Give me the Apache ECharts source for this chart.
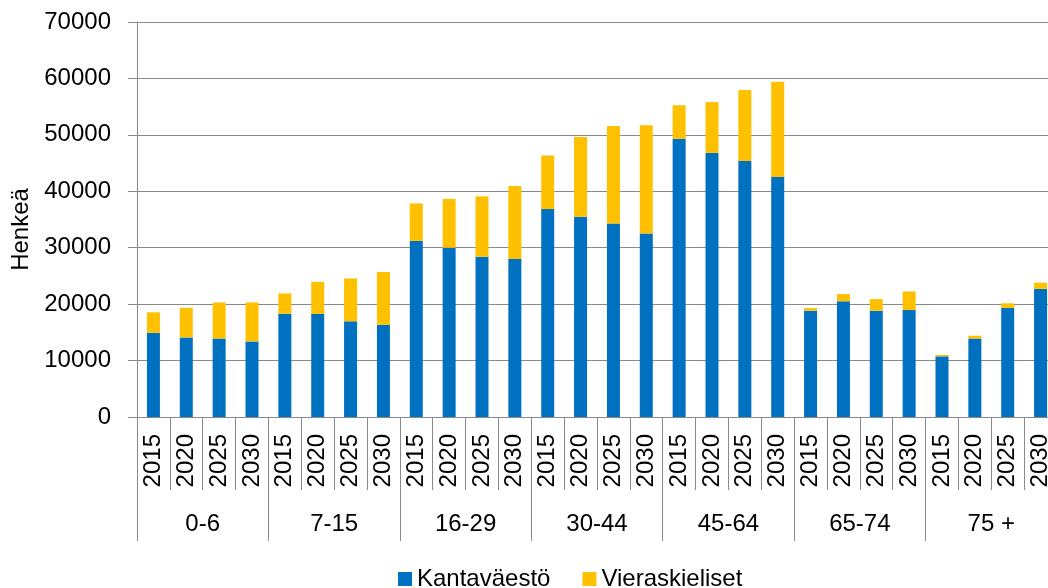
<!DOCTYPE html>
<html>
<head>
<meta charset="utf-8">
<script src="https://cdn.jsdelivr.net/npm/echarts@6/dist/echarts.min.js"></script>
<style>
  html, body { margin: 0; padding: 0; background: #fff; }
  #chart { width: 1048px; height: 588px; }
</style>
</head>
<body>
<div id="chart"></div>
<script>
const years = ['2015', '2020', '2025', '2030'];
const groups = ['0-6', '7-15', '16-29', '30-44', '45-64', '65-74', '75 +'];
const categories = groups.flatMap(() => years);

const kantavaesto = [
    14900, 14100, 13900, 13400,
    18300, 18250, 16950, 16350,
    31200, 30000, 28400, 28000,
    36850, 35500, 34300, 32500,
    49300, 46800, 45350, 42550,
    18850, 20500, 18850, 18950,
    10750, 13900, 19350, 22700
];
const vieraskieliset = [
    3650, 5250, 6400, 6900,
    3600, 5700, 7600, 9350,
    6650, 8650, 10700, 12950,
    9500, 14100, 17250, 19200,
    5950, 9000, 12600, 16850,
    450, 1300, 2050, 3300,
    250, 500, 800, 1100
];

const FONT = "'Liberation Sans', Arial, sans-serif";
const GRAY = '#8a8a8a';

const chart = echarts.init(document.getElementById('chart'));
chart.setOption({
    animation: false,
    textStyle: { fontFamily: FONT },
    grid: { left: 137, right: -9, top: 22, bottom: 171, containLabel: false, outerBoundsMode: 'none' },
    legend: {
        left: 393, top: 562,
        itemWidth: 14, itemHeight: 14, itemGap: 32,
        icon: 'rect',
        textStyle: { fontFamily: FONT, fontSize: 24, color: '#000' },
        data: ['Kantaväestö', 'Vieraskieliset']
    },
    xAxis: [
        {
            type: 'category',
            data: categories,
            axisLine: { show: true, lineStyle: { color: GRAY, width: 1 } },
            axisTick: { show: true, interval: 0, length: 73, lineStyle: { color: GRAY, width: 1 } },
            axisLabel: { interval: 0, rotate: 90, margin: 17, fontSize: 24, color: '#000', fontFamily: FONT }
        },
        {
            type: 'category',
            data: groups,
            position: 'bottom',
            axisLine: { show: false },
            axisTick: { show: true, interval: 0, length: 124, lineStyle: { color: GRAY, width: 1 } },
            axisLabel: { interval: 0, margin: 95, fontSize: 24, color: '#000', fontFamily: FONT }
        }
    ],
    yAxis: {
        type: 'value',
        min: 0, max: 70000, interval: 10000,
        name: 'Henkeä',
        nameLocation: 'middle',
        nameGap: 104,
        nameTextStyle: { fontSize: 24, color: '#000', fontFamily: FONT, padding: [0, 20, 0, 0] },
        axisLine: { show: true, lineStyle: { color: GRAY, width: 1 } },
        axisTick: { show: true, length: 9, lineStyle: { color: GRAY, width: 1 } },
        axisLabel: { margin: 26, fontSize: 24, color: '#000', fontFamily: FONT, formatter: (v) => String(v) },
        splitLine: { show: true, lineStyle: { color: GRAY, width: 1 } }
    },
    series: [
        {
            name: 'Kantaväestö', type: 'bar', stack: 'a',
            data: kantavaesto, barWidth: 13,
            itemStyle: { color: '#0070C0' }
        },
        {
            name: 'Vieraskieliset', type: 'bar', stack: 'a',
            data: vieraskieliset, barWidth: 13,
            itemStyle: { color: '#FFC000' }
        }
    ]
});
</script>
</body>
</html>
